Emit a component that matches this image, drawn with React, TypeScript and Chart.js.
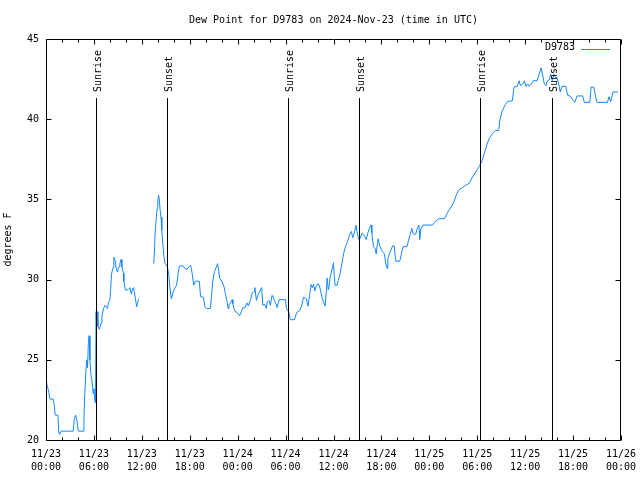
import React, { useEffect, useRef } from "react";
import { Chart, registerables } from "chart.js";

Chart.register(...registerables);

const FONT = "'DejaVu Sans Mono', 'Liberation Mono', monospace";

const chartTitle = "Dew Point for D9783 on 2024-Nov-23 (time in UTC)";
const seriesName = "D9783";
const yAxisTitle = "degrees F";

// hours since 2024-11-23 00:00 UTC
const hours = [
  0.0, 0.15, 0.35, 0.5, 0.9, 1.05, 1.15, 1.5, 1.6, 1.7, 1.9, 3.4, 3.55, 3.7, 3.85, 4.0, 4.1, 4.7, 4.75, 4.85,
  5.0, 5.1, 5.2, 5.3, 5.4, 5.5, 5.6, 5.8, 5.9, 6.0, 6.1, 6.2, 6.27, 6.33, 6.4, 6.5, 6.67, 6.8, 6.9, 7.0,
  7.2, 7.4, 7.55, 7.7, 7.8, 8.0, 8.1, 8.2, 8.4, 8.5, 8.65, 8.8, 8.9, 9.0, 9.15, 9.25, 9.4, 9.5, 9.7, 9.75,
  9.95, 10.2, 10.4, 10.5, 10.7, 10.8, 10.95, 11.05, 11.2, 11.35, 11.45, 11.55, 11.65, 12.5,
  13.5, 13.6, 13.7, 13.8, 13.9, 14.0, 14.1, 14.2, 14.3, 14.4, 14.5, 14.6, 14.75, 14.9, 15.1, 15.25, 15.4, 15.5,
  15.7, 15.85, 16.1, 16.35, 16.55, 16.7, 17.15, 17.6, 17.8, 18.1, 18.3, 18.5, 18.7, 19.2, 19.35, 19.7, 19.9, 20.1,
  20.6, 20.7, 20.9, 21.1, 21.3, 21.5, 21.6, 21.75, 22.05, 22.3, 22.45, 22.65, 22.8, 22.9, 23.1, 23.3, 23.4, 23.6,
  23.9, 24.25, 24.45, 24.65, 24.9, 25.15, 25.35, 25.5, 25.65, 25.8, 26.05, 26.15, 26.35, 26.5, 26.75, 27.0, 27.15,
  27.4, 27.6, 27.7, 27.9, 28.1, 28.3, 28.4, 28.6, 28.8, 28.95, 29.2, 30.0, 30.1, 30.4, 30.6, 31.1, 31.4, 31.75,
  32.0, 32.25, 32.6, 32.8, 33.0, 33.2, 33.35, 33.5, 33.65, 33.85, 34.05, 34.25, 34.4, 34.6, 34.75, 34.95, 35.1,
  35.2, 35.35, 35.45, 35.6, 35.8, 35.9, 36.0, 36.1, 36.2, 36.45, 36.6, 36.8, 36.95, 37.15, 37.3, 37.5, 37.7, 37.9,
  38.1, 38.25, 38.4, 38.6, 38.8, 38.95, 39.15, 39.3, 39.6, 39.75, 39.9, 40.1, 40.3, 40.5, 40.7, 40.8, 41.0, 41.2,
  41.35, 41.5, 41.6, 41.75, 42.0, 42.2, 42.4, 42.5, 42.7, 42.8, 43.0, 43.2, 43.4, 43.6, 43.8, 44.3, 44.5, 44.7,
  45.2, 45.4, 45.6, 45.8, 45.95, 46.1, 46.3, 46.5, 46.7, 46.8, 46.95, 47.2, 48.4, 48.6, 49.2, 49.9, 50.3, 50.7,
  51.1, 51.3, 51.7, 52.2, 52.6, 53.0, 53.4, 53.8, 54.25, 54.6, 54.9, 55.2, 55.5, 55.9, 56.25, 56.7, 56.8, 57.1,
  57.5, 57.8, 58.4, 58.6, 59.0, 59.25, 59.4, 59.7, 59.9, 60.1, 60.3, 60.5, 60.8, 61.0, 61.5, 61.75, 62.0, 62.2,
  62.4, 62.6, 62.8, 63.0, 63.2, 63.4, 63.6, 63.8, 64.0, 64.25, 64.4, 64.6, 65.1, 65.3, 65.6, 65.9, 66.2, 66.5,
  67.2, 67.4, 68.1, 68.25, 68.6, 68.8, 69.0, 70.3, 70.5, 70.7, 71.0, 71.6,
];

const dewPoint: (number | null)[] = [
  23.8, 23.4, 23.0, 22.55, 22.55, 22.1, 21.55, 21.55, 20.5, 20.35, 20.55, 20.55, 21.3, 21.55, 21.3, 20.7, 20.55, 20.55, 21.3, 22.8,
  24.3, 25.0, 24.5, 26.0, 26.5, 25.0, 24.2, 23.5, 22.9, 23.2, 22.5, 22.3, 28.0, 27.0, 28.0, 27.1, 26.9, 27.1, 27.3, 27.7,
  28.2, 28.4, 28.3, 28.2, 28.55, 28.7, 29.45, 30.35, 30.75, 31.4, 31.2, 30.7, 30.5, 30.6, 30.8, 31.0, 31.25, 30.8, 30.4, 29.9,
  29.35, 29.35, 29.45, 29.5, 29.1, 29.35, 29.5, 29.25, 28.8, 28.3, 28.5, 28.7, 28.8, null,
  31.0, 32.05, 33.3, 33.75, 34.4, 34.9, 35.25, 34.9, 34.3, 33.9, 33.1, 32.4, 31.5, 31.0, 30.9, 30.7, 30.2, 29.55,
  28.8, 29.1, 29.45, 29.65, 30.4, 30.85, 30.85, 30.6, 30.75, 30.9, 30.4, 29.65, 29.9, 29.9, 28.95, 28.9, 28.3, 28.2,
  28.2, 28.9, 29.95, 30.5, 30.75, 31.0, 30.6, 30.1, 29.85, 29.55, 29.15, 28.7, 28.2, 28.4, 28.55, 28.75, 28.5, 28.05,
  27.95, 27.75, 28.0, 28.25, 28.25, 28.55, 28.35, 28.6, 28.8, 29.15, 29.25, 29.5, 28.7, 29.0, 29.25, 29.5, 28.4,
  28.45, 28.2, 28.6, 28.7, 28.4, 29.0, 28.95, 28.7, 28.5, 28.25, 28.75, 28.75, 28.2, 28.0, 27.5, 27.5, 27.95, 28.05,
  28.35, 28.9, 28.8, 28.35, 29.0, 29.7, 29.5, 29.7, 29.3, 29.6, 29.75, 29.6, 29.25, 28.8, 28.6, 28.35, 29.25,
  30.1, 29.35, 29.6, 30.2, 30.6, 30.8, 31.05, 30.2, 29.65, 29.65, 29.95, 30.3, 30.7, 31.3, 31.7, 32.05, 32.3, 32.6,
  32.9, 33.0, 32.6, 32.9, 33.4, 33.0, 32.5, 32.55, 32.9, 32.8, 32.7, 32.5, 32.9, 33.2, 33.4, 32.9, 32.05, 31.95,
  31.6, 32.25, 32.55, 32.15, 31.85, 31.7, 31.6, 31.1, 30.7, 31.3, 31.6, 31.85, 32.1, 32.1, 31.15, 31.15, 31.6, 32.05,
  32.05, 32.45, 32.8, 33.2, 32.9, 32.8, 32.85, 33.2, 33.4, 32.5, 33.2, 33.4, 33.4, 33.55, 33.8, 33.8, 34.2, 34.5,
  34.85, 35.2, 35.6, 35.75, 35.9, 36.0, 36.4, 36.7, 37.05, 37.4, 37.9, 38.4, 38.8, 39.1, 39.3, 39.3, 39.85, 40.5,
  40.9, 41.1, 41.15, 42.0, 42.05, 42.4, 42.1, 42.2, 42.4, 42.05, 42.2, 42.05, 42.2, 42.4, 42.4, 42.8, 43.2, 42.7,
  42.2, 42.1, 42.4, 42.45, 42.8, 42.4, 42.8, 42.6, 42.6, 42.05, 41.7, 42.05, 42.05, 41.5, 41.45, 41.25, 41.05, 41.45,
  41.45, 41.05, 41.05, 42.0, 42.0, 41.45, 41.05, 41.05, 41.4, 41.1, 41.7, 41.7,
];

const dateLabels = ["11/23", "11/23", "11/23", "11/23", "11/24", "11/24", "11/24", "11/24", "11/25", "11/25", "11/25", "11/25", "11/26"];
const timeLabels = ["00:00", "06:00", "12:00", "18:00", "00:00", "06:00", "12:00", "18:00", "00:00", "06:00", "12:00", "18:00", "00:00"];

const eventHours = [6.27, 15.2, 30.32, 39.22, 54.37, 63.3];
const eventLabels = ["Sunrise", "Sunset", "Sunrise", "Sunset", "Sunrise", "Sunset"];

const LINE_COLOR = "rgb(20,134,255)";

const decorPlugin = {
  id: "gnuplotDecor",
  afterDatasetsDraw(chart: any) {
    const { ctx, chartArea, scales } = chart;
    const xs = scales.x;
    const ys = scales.y;
    const L = chartArea.left + 0.5;
    const R = chartArea.right - 0.5;
    const T = chartArea.top + 0.5;
    const B = chartArea.bottom + 0.5;
    ctx.save();
    ctx.strokeStyle = "#000";
    ctx.lineWidth = 1;

    // event lines
    ctx.fillStyle = "#000";
    ctx.font = "10px " + FONT;
    eventHours.forEach((h, i) => {
      const x = Math.round(xs.getPixelForValue(h)) + 0.5;
      ctx.beginPath();
      ctx.moveTo(x, 98);
      ctx.lineTo(x, B);
      ctx.stroke();
      ctx.save();
      ctx.translate(x + 1.5, 92);
      ctx.rotate(-Math.PI / 2);
      ctx.textAlign = "left";
      ctx.textBaseline = "middle";
      ctx.fillText(eventLabels[i], 0, 0);
      ctx.restore();
    });

    // frame
    ctx.beginPath();
    ctx.rect(L, T, R - L, B - T);
    ctx.stroke();

    // x ticks
    ctx.beginPath();
    for (let h = 0; h <= 72; h += 2) {
      const x = Math.round(xs.getPixelForValue(h)) + 0.5;
      const len = h % 6 === 0 ? 5 : 3;
      ctx.moveTo(x, B);
      ctx.lineTo(x, B - len);
      ctx.moveTo(x, T);
      ctx.lineTo(x, T + len);
    }
    // y ticks
    for (let v = 20; v <= 45; v += 5) {
      const y = Math.round(ys.getPixelForValue(v)) + 0.5;
      ctx.moveTo(L, y);
      ctx.lineTo(L + 5, y);
      ctx.moveTo(R, y);
      ctx.lineTo(R - 5, y);
    }
    ctx.stroke();

    // title
    ctx.fillStyle = "#000";
    ctx.textAlign = "center";
    ctx.textBaseline = "middle";
    ctx.fillText(chartTitle, (chartArea.left + chartArea.right) / 2, 20);

    // y axis title
    ctx.save();
    ctx.translate(8, (chartArea.top + chartArea.bottom) / 2);
    ctx.rotate(-Math.PI / 2);
    ctx.textAlign = "center";
    ctx.textBaseline = "middle";
    ctx.fillText(yAxisTitle, 0, 0);
    ctx.restore();

    // legend
    ctx.textAlign = "right";
    ctx.textBaseline = "middle";
    ctx.fillText(seriesName, 575, 47);
    ctx.strokeStyle = LINE_COLOR;
    ctx.beginPath();
    ctx.moveTo(581, 49.5);
    ctx.lineTo(610, 49.5);
    ctx.stroke();

    ctx.restore();
  },
};

export default function App() {
  const canvasRef = useRef<HTMLCanvasElement | null>(null);

  useEffect(() => {
    const canvas = canvasRef.current;
    if (!canvas) return;
    const points = hours.map((h, i) => ({ x: h, y: dewPoint[i] }));
    const chart = new Chart(canvas, {
      type: "line",
      data: {
        datasets: [
          {
            label: seriesName,
            data: points as any,
            borderColor: LINE_COLOR,
            backgroundColor: LINE_COLOR,
            borderWidth: 1,
            pointRadius: 0,
            tension: 0,
            spanGaps: false,
          },
        ],
      },
      options: {
        animation: false,
        responsive: false,
        devicePixelRatio: 1,
        layout: { padding: { top: 39, right: 19, left: 0, bottom: 0 } },
        plugins: {
          legend: { display: false },
          title: { display: false },
          tooltip: { enabled: false },
        },
        scales: {
          x: {
            type: "linear",
            min: 0,
            max: 72,
            grid: { display: false, drawTicks: false },
            border: { display: false },
            ticks: {
              stepSize: 6,
              autoSkip: false,
              maxRotation: 0,
              minRotation: 0,
              padding: 8,
              color: "#000",
              font: { family: FONT, size: 10, lineHeight: 1.27 },
              callback: (value: any) => {
                const i = Math.round(Number(value) / 6);
                return [dateLabels[i], timeLabels[i]];
              },
            },
            afterFit: (scale: any) => {
              scale.height = 40;
              scale.paddingLeft = 0;
              scale.paddingRight = 0;
            },
          },
          y: {
            min: 20,
            max: 45,
            grid: { display: false, drawTicks: false },
            border: { display: false },
            ticks: {
              stepSize: 5,
              padding: 7,
              color: "#000",
              font: { family: FONT, size: 10 },
            },
            afterFit: (scale: any) => {
              scale.width = 46;
              scale.paddingTop = 0;
              scale.paddingBottom = 0;
            },
          },
        },
      },
      plugins: [decorPlugin],
    });
    return () => chart.destroy();
  }, []);

  return (
    <div style={{ position: "fixed", left: 0, top: 0, width: 640, height: 480, background: "#fff" }}>
      <canvas ref={canvasRef} width={640} height={480} style={{ width: 640, height: 480, display: "block" }} />
    </div>
  );
}
